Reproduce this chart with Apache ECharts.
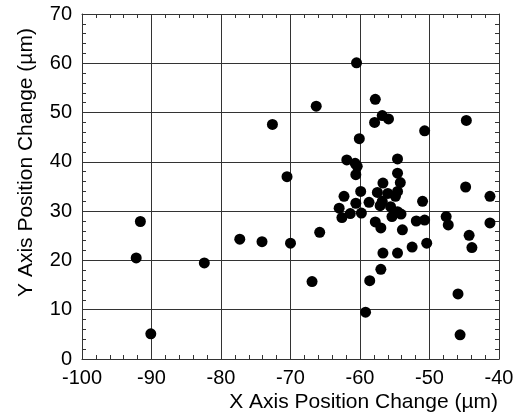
<!DOCTYPE html>
<html>
<head>
<meta charset="utf-8">
<script src="https://cdn.jsdelivr.net/npm/echarts@6/dist/echarts.min.js"></script>
<style>
  html, body { margin: 0; padding: 0; background: #fff; }
  #main { width: 517px; height: 417px; }
</style>
</head>
<body>
<div id="main"></div>
<script>
var chartDom = document.getElementById('main');
var myChart = echarts.init(chartDom);
var option;

// X axis position change (µm) of each measurement
var xValues = [
    -92.2, -91.6, -90.1, -82.4, -77.3, -74.1, -72.6, -70.5, -70.0, -66.9,
    -66.3, -65.8, -60.5, -61.9, -60.7, -60.4, -60.6, -60.1, -62.3, -63.0,
    -62.6, -61.4, -60.6, -59.9, -59.8, -58.7, -59.2, -58.6, -57.8, -57.9,
    -56.8, -55.9, -57.5, -56.7, -57.1, -56.8, -57.8, -57.0, -56.7, -57.0,
    -56.0, -55.6, -55.4, -54.9, -54.6, -54.6, -54.6, -54.2, -54.6, -54.1,
    -53.9, -54.6, -52.5, -51.9, -50.7, -51.0, -50.7, -50.4, -47.6, -47.3,
    -45.9, -45.6, -44.8, -44.7, -44.3, -43.9, -41.3, -41.3
];
// Y axis position change (µm) of each measurement
var yValues = [
    20.5, 27.9, 5.1, 19.5, 24.3, 23.8, 47.6, 37.0, 23.5, 15.7,
    51.3, 25.7, 60.1, 40.4, 39.7, 39.1, 37.4, 44.7, 33.0, 30.6,
    28.7, 29.5, 31.6, 34.0, 29.6, 31.8, 9.5, 15.9, 52.7, 48.0,
    49.4, 48.7, 33.8, 35.7, 31.1, 32.0, 27.8, 26.6, 21.5, 18.2,
    33.6, 30.9, 28.9, 33.0, 34.0, 37.7, 40.6, 35.8, 29.9, 29.4,
    26.2, 21.5, 22.7, 28.0, 28.2, 32.0, 46.3, 23.5, 28.9, 27.2,
    13.2, 4.9, 34.9, 48.4, 25.1, 22.6, 33.0, 27.6
];

var points = xValues.map(function (x, i) {
    return [x, yValues[i]];
});

var font = 'Liberation Sans, Arial, sans-serif';
var lineColor = '#333';

// shared look for the frame axes (top/right only draw ticks)
function frameAxis(extra) {
    var base = {
        axisLine: { show: true, onZero: false, lineStyle: { color: lineColor, width: 1 } },
        axisTick: { show: true, inside: true, length: 4, lineStyle: { color: lineColor } },
        minorTick: { show: true, splitNumber: 5, length: 4, lineStyle: { color: lineColor } },
        splitLine: { show: false },
        axisLabel: { show: false }
    };
    return Object.assign(base, extra);
}

option = {
    backgroundColor: '#fff',
    animation: false,
    grid: {
        left: 82,
        right: 18,
        top: 14,
        bottom: 58,
        containLabel: false
    },
    xAxis: [
        frameAxis({
            type: 'value',
            min: -100,
            max: -40,
            interval: 10,
            position: 'bottom',
            splitLine: { show: true, lineStyle: { color: lineColor, width: 1 } },
            axisLabel: { show: true, color: '#000', fontSize: 20, fontFamily: font, margin: 9 },
            name: 'X Axis Position Change (µm)',
            nameLocation: 'end',
            nameGap: -1,
            nameTextStyle: {
                color: '#000', fontSize: 21, fontFamily: font,
                align: 'right', verticalAlign: 'top', padding: [33, 0, 0, 0]
            }
        }),
        frameAxis({
            type: 'value',
            min: -100,
            max: -40,
            interval: 10,
            position: 'top'
        })
    ],
    yAxis: [
        frameAxis({
            type: 'value',
            min: 0,
            max: 70,
            interval: 10,
            position: 'left',
            splitLine: { show: true, lineStyle: { color: lineColor, width: 1 } },
            axisLabel: { show: true, color: '#000', fontSize: 20, fontFamily: font, margin: 10 },
            name: 'Y Axis Position Change (µm)',
            nameLocation: 'middle',
            nameGap: 45,
            nameTextStyle: {
                color: '#000', fontSize: 21, fontFamily: font,
                padding: [0, 0, 0, 48]
            }
        }),
        frameAxis({
            type: 'value',
            min: 0,
            max: 70,
            interval: 10,
            position: 'right'
        })
    ],
    series: [
        {
            type: 'scatter',
            xAxisIndex: 0,
            yAxisIndex: 0,
            symbol: 'circle',
            symbolSize: 11,
            itemStyle: { color: '#000', opacity: 1 },
            data: points
        }
    ]
};

option && myChart.setOption(option);
</script>
</body>
</html>
